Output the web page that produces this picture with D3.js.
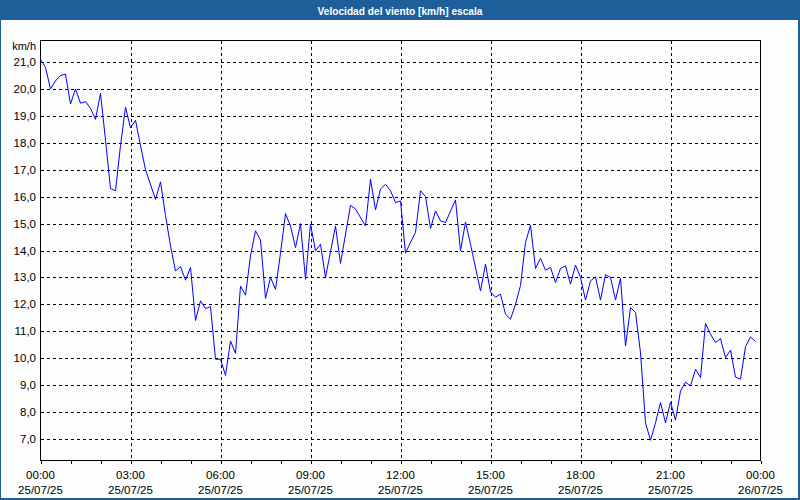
<!DOCTYPE html>
<html>
<head>
<meta charset="utf-8">
<script src="https://cdn.jsdelivr.net/npm/d3@7"></script>
<style>
  body { margin: 0; background: #fff; }
  svg { display: block; font-family: "Liberation Sans", Arial, sans-serif; }
</style>
</head>
<body>
<div id="chart"></div>
<script>
// Minutes after 00:00 on 25/07/25 and wind speed (km/h)
const minutes = [0, 10, 20, 30, 40, 50, 60, 70, 80, 90, 100, 110, 120, 130, 140, 150, 160, 170, 180, 190,
  200, 210, 230, 240, 250, 260, 270, 280, 290, 300, 310, 320, 330, 340, 350, 360, 370, 380, 390, 400,
  410, 420, 430, 440, 450, 460, 470, 480, 490, 500, 510, 520, 530, 540, 550, 560, 570, 590, 600, 620,
  630, 650, 660, 670, 680, 690, 700, 710, 720, 730, 740, 750, 760, 770, 780, 790, 800, 810, 830, 840,
  850, 860, 880, 890, 900, 910, 920, 930, 940, 950, 960, 970, 980, 990, 1000, 1010, 1020, 1030, 1040, 1050,
  1060, 1070, 1080, 1090, 1100, 1110, 1120, 1130, 1140, 1150, 1160, 1170, 1180, 1190, 1200, 1210, 1220, 1230, 1240, 1250,
  1260, 1270, 1280, 1290, 1300, 1310, 1320, 1330, 1340, 1350, 1360, 1370, 1380, 1390, 1400, 1410, 1420, 1430];
const speeds = [21.1, 20.8, 20.0, 20.3, 20.5, 20.55, 19.44, 20.0, 19.47, 19.53, 19.28, 18.87, 19.84, 18.1, 16.3, 16.22, 17.9, 19.32, 18.55, 18.84,
  17.9, 17.0, 15.9, 16.55, 15.3, 14.17, 13.24, 13.4, 12.9, 13.37, 11.4, 12.13, 11.84, 11.92, 9.96, 9.96, 9.36, 10.64, 10.18, 12.68,
  12.34, 13.8, 14.73, 14.39, 12.22, 13.0, 12.56, 13.9, 15.37, 14.91, 14.11, 15.0, 12.93, 14.98, 13.99, 14.23, 13.0, 14.91, 13.52, 15.68,
  15.54, 14.91, 16.65, 15.51, 16.28, 16.46, 16.22, 15.78, 15.84, 13.9, 14.3, 14.67, 16.22, 16.0, 14.82, 15.47, 15.1, 15.04, 15.88, 13.99,
  15.06, 14.23, 12.5, 13.49, 12.46, 12.27, 12.38, 11.63, 11.45, 12.0, 12.7, 14.3, 14.94, 13.33, 13.71, 13.27, 13.37, 12.81, 13.33, 13.43,
  12.75, 13.46, 13.0, 12.16, 12.87, 13.02, 12.16, 13.1, 13.0, 12.16, 12.97, 10.45, 11.88, 11.7, 10.2, 7.6, 6.95, 7.6, 8.35, 7.6,
  8.37, 7.7, 8.78, 9.11, 8.97, 9.59, 9.28, 11.29, 10.89, 10.58, 10.73, 10.02, 10.3, 9.3, 9.22, 10.43, 10.79, 10.62];

// Axis ticks
const yTicks = [7, 8, 9, 10, 11, 12, 13, 14, 15, 16, 17, 18, 19, 20, 21];
const xTickMinutes = [0, 180, 360, 540, 720, 900, 1080, 1260, 1440];
const xTickTimes = ["00:00", "03:00", "06:00", "09:00", "12:00", "15:00", "18:00", "21:00", "00:00"];
const xTickDates = ["25/07/25", "25/07/25", "25/07/25", "25/07/25", "25/07/25", "25/07/25", "25/07/25", "25/07/25", "26/07/25"];
const title = "Velocidad del viento [km/h] escala";
const unit = "km/h";

const W = 800, H = 500;
const plotL = 40.5, plotR = 760.5, plotT = 40.5, plotB = 460.5;
const blue = "#1f5f99";

const svg = d3.select("#chart").append("svg")
    .attr("width", W)
    .attr("height", H);

// window background and border
svg.append("rect").attr("width", W).attr("height", H).attr("fill", blue);
svg.append("rect").attr("x", 1).attr("y", 20).attr("width", W - 3).attr("height", H - 22).attr("fill", "#fcfdfc");

svg.append("text")
    .attr("x", 400).attr("y", 14.5)
    .attr("text-anchor", "middle")
    .attr("fill", "#fff")
    .attr("font-size", "11.5px")
    .attr("font-weight", "bold")
    .attr("textLength", 165)
    .attr("lengthAdjust", "spacingAndGlyphs")
    .text(title);

const x = d3.scaleLinear().domain([0, 1440]).range([plotL, plotR]);
const y = d3.scaleLinear().domain([6.2, 21.8]).range([plotB, plotT]);

// grid
const grid = svg.append("g")
    .attr("stroke", "#000")
    .attr("stroke-dasharray", "3,3")
    .attr("shape-rendering", "crispEdges");
grid.selectAll(".gy").data(yTicks).join("line")
    .attr("x1", plotL).attr("x2", plotR)
    .attr("y1", d => Math.round(y(d)) + 0.5).attr("y2", d => Math.round(y(d)) + 0.5);
grid.selectAll(".gx").data(xTickMinutes.slice(1, -1)).join("line")
    .attr("y1", plotT).attr("y2", plotB)
    .attr("x1", d => Math.round(x(d)) + 0.5).attr("x2", d => Math.round(x(d)) + 0.5);

// frame
svg.append("rect")
    .attr("x", plotL).attr("y", plotT)
    .attr("width", plotR - plotL).attr("height", plotB - plotT)
    .attr("fill", "none").attr("stroke", "#000")
    .attr("shape-rendering", "crispEdges");

// hourly ticks under the x axis
svg.append("g")
    .attr("transform", `translate(0,${plotB})`)
    .call(d3.axisBottom(x).tickValues(d3.range(0, 1441, 60)).tickSize(3).tickFormat(""))
    .call(g => g.select(".domain").remove())
    .selectAll("line").attr("shape-rendering", "crispEdges");

// x labels (time + date)
const xl = svg.append("g").attr("font-size", "11.5px").attr("fill", "#000");
xl.selectAll(".t").data(xTickMinutes).join("text")
    .attr("x", d => x(d)).attr("y", 479)
    .attr("text-anchor", "middle")
    .text((d, i) => xTickTimes[i]);
xl.selectAll(".d").data(xTickMinutes).join("text")
    .attr("x", d => x(d)).attr("y", 494)
    .attr("text-anchor", "middle")
    .text((d, i) => xTickDates[i]);

// y labels
svg.append("g").attr("font-size", "11.5px")
  .selectAll("text").data(yTicks).join("text")
    .attr("x", 36).attr("y", d => y(d) + 4)
    .attr("text-anchor", "end")
    .text(d => d3.format(".1f")(d).replace(".", ","));
svg.append("text")
    .attr("x", 36).attr("y", 50)
    .attr("text-anchor", "end")
    .attr("font-size", "11px")
    .text(unit);

// wind line
const line = d3.line()
    .x((d, i) => x(minutes[i]))
    .y(d => y(d));
svg.append("path")
    .datum(speeds)
    .attr("fill", "none")
    .attr("stroke", "#0000ff")
    .attr("stroke-width", 1)
    .attr("d", line);
</script>
</body>
</html>
